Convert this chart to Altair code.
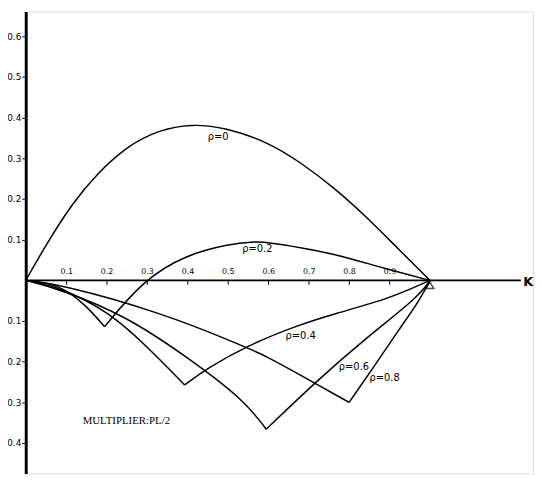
import altair as alt
import pandas as pd

# ---- data (K on x, moment on y) ----
k_r0 = [0, 0.054, 0.115, 0.176, 0.249, 0.329, 0.410, 0.493, 0.600, 0.680, 0.763, 0.844, 0.905, 1.0]
v_r0 = [0, 0.094, 0.189, 0.262, 0.329, 0.370, 0.385, 0.376, 0.340, 0.290, 0.228, 0.155, 0.094, 0]

k_r2_a = [0, 0.085, 0.151, 0.195]
v_r2_a = [0, -0.010, -0.063, -0.114]
k_r2_b = [0.195, 0.29, 0.395, 0.507, 0.56, 0.600, 0.720, 0.800, 0.885, 1.0]
v_r2_b = [-0.114, 0, 0.063, 0.090, 0.095, 0.094, 0.074, 0.055, 0.030, 0]

k_r4_a = [0, 0.085, 0.207, 0.312, 0.393]
v_r4_a = [0, -0.017, -0.077, -0.174, -0.257]
k_r4_b = [0.393, 0.451, 0.549, 0.671, 0.763, 0.900, 1.0]
v_r4_b = [-0.257, -0.215, -0.160, -0.111, -0.082, -0.045, 0]

k_r6_a = [0, 0.085, 0.249, 0.410, 0.541, 0.595]
v_r6_a = [0, -0.022, -0.087, -0.196, -0.295, -0.366]
k_r6_b = [0.595, 0.722, 0.844, 0.973, 1.0]
v_r6_b = [-0.366, -0.245, -0.140, -0.039, 0]

k_r8_a = [0, 0.085, 0.329, 0.541, 0.600, 0.671, 0.800]
v_r8_a = [0, -0.010, -0.077, -0.162, -0.189, -0.228, -0.300]
k_r8_b = [0.800, 0.861, 0.924, 0.975, 1.0]
v_r8_b = [-0.300, -0.213, -0.120, -0.048, 0]

curve_labels = ["ρ=0", "ρ=0.2", "ρ=0.4", "ρ=0.6", "ρ=0.8"]
label_k = [0.476, 0.573, 0.68, 0.812, 0.888]
label_v = [0.352, 0.078, -0.136, -0.213, -0.240]

x_ticks = [0.1, 0.2, 0.3, 0.4, 0.5, 0.6, 0.7, 0.8, 0.9]
y_ticks = [-0.4, -0.3, -0.2, -0.1, 0.1, 0.2, 0.3, 0.4, 0.5, 0.6]

segments = [
    ("r0", k_r0, v_r0),
    ("r2a", k_r2_a, v_r2_a), ("r2b", k_r2_b, v_r2_b),
    ("r4a", k_r4_a, v_r4_a), ("r4b", k_r4_b, v_r4_b),
    ("r6a", k_r6_a, v_r6_a), ("r6b", k_r6_b, v_r6_b),
    ("r8a", k_r8_a, v_r8_a), ("r8b", k_r8_b, v_r8_b),
]
rows = []
for name, ks, vs in segments:
    for i, (k, v) in enumerate(zip(ks, vs)):
        rows.append({"seg": name, "i": i, "K": k, "V": v})
df = pd.DataFrame(rows)

lab_df = pd.DataFrame({"t": curve_labels, "K": label_k, "V": label_v})

X_DOM = [0, 1.255]
Y_DOM = [-0.475, 0.661]
W, H = 515, 469
y0_px = (Y_DOM[1] - 0) / (Y_DOM[1] - Y_DOM[0]) * H

xs = alt.Scale(domain=X_DOM, nice=False, zero=False)
ys = alt.Scale(domain=Y_DOM, nice=False, zero=False)

xaxis = alt.Axis(values=x_ticks, orient="bottom", offset=-(H - y0_px), domain=False,
                 tickSize=4, tickColor="black", labelPadding=-17, labelFontSize=8,
                 labelFont="DejaVu Sans", labelColor="black", grid=False, title=None,
                 format=".1f")
yaxis = alt.Axis(values=y_ticks, domainWidth=3, domainColor="black", tickSize=4,
                 tickColor="black", labelFontSize=9, labelFont="DejaVu Sans",
                 labelColor="black", labelPadding=1, grid=False, title=None,
                 labelExpr="format(abs(datum.value), '.1f')")

lines = alt.Chart(df).mark_line(color="black", strokeWidth=1.5, interpolate="basis").encode(
    x=alt.X("K:Q", scale=xs, axis=xaxis),
    y=alt.Y("V:Q", scale=ys, axis=yaxis),
    detail="seg:N",
    order="i:Q",
)

axis_df = pd.DataFrame({"K": [0.0], "K2": [1.225], "V": [0.0]})
k_axis = alt.Chart(axis_df).mark_rule(color="black", strokeWidth=2).encode(
    x=alt.X("K:Q", scale=xs), x2="K2:Q", y=alt.Y("V:Q", scale=ys)
)

tri_df = pd.DataFrame({"K": [1.0], "V": [-0.012]})
support = alt.Chart(tri_df).mark_point(shape="triangle-up", size=60, color="black",
                                        strokeWidth=1.5, filled=False).encode(
    x=alt.X("K:Q", scale=xs), y=alt.Y("V:Q", scale=ys)
)

labels = alt.Chart(lab_df).mark_text(fontSize=10, font="DejaVu Sans", color="black").encode(
    x=alt.X("K:Q", scale=xs), y=alt.Y("V:Q", scale=ys), text="t:N"
)

mult_df = pd.DataFrame({"K": [0.249], "V": [-0.346], "t": ["MULTIPLIER:PL/2"]})
mult = alt.Chart(mult_df).mark_text(fontSize=11, font="Liberation Serif", color="black").encode(
    x=alt.X("K:Q", scale=xs), y=alt.Y("V:Q", scale=ys), text="t:N"
)

k_df = pd.DataFrame({"K": [1.243], "V": [-0.004], "t": ["K"]})
k_lab = alt.Chart(k_df).mark_text(fontSize=13, font="DejaVu Sans", fontWeight="bold",
                                  color="black").encode(
    x=alt.X("K:Q", scale=xs), y=alt.Y("V:Q", scale=ys), text="t:N"
)

chart = alt.layer(k_axis, lines, support, labels, mult, k_lab).properties(
    width=W, height=H,
    autosize=alt.AutoSizeParams(type="none"),
    padding={"left": 18, "top": 0, "right": 1, "bottom": 8},
).configure_view(stroke=None).configure(background="white")

chart.save("out.html", embed_options={"renderer": "svg", "actions": False})
